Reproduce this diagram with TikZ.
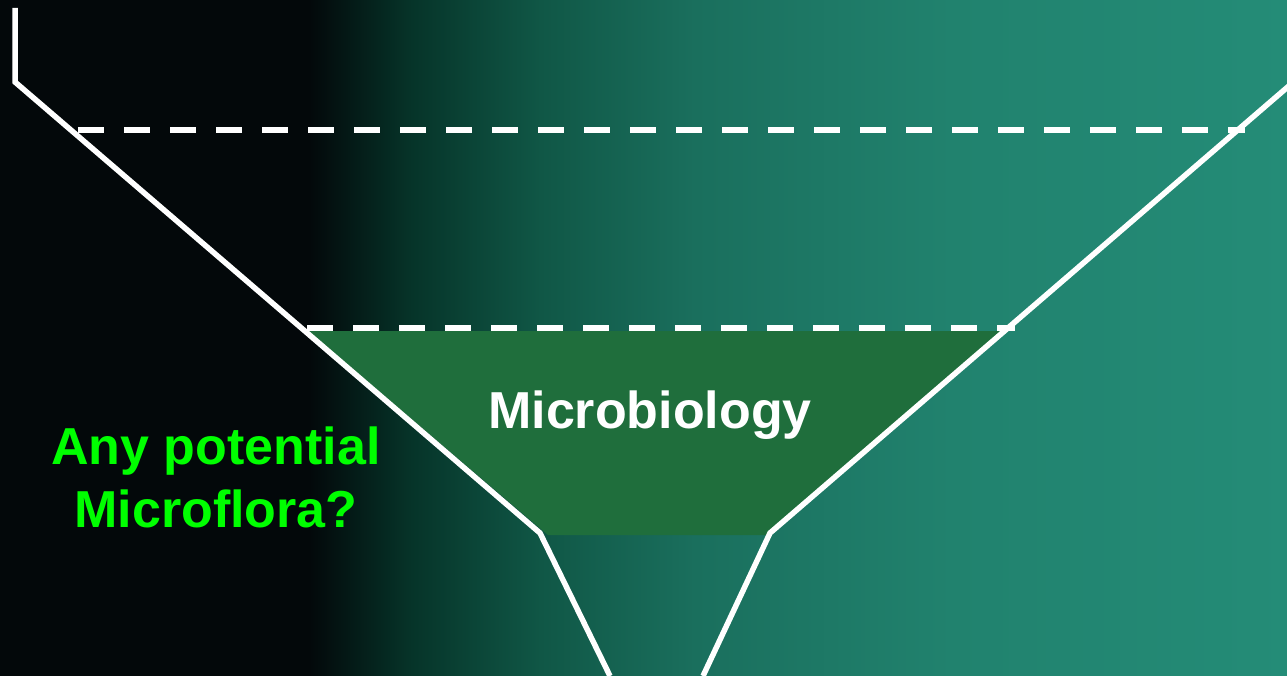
\documentclass[tikz,border=0pt]{standalone}
\usepackage{fontspec}
\setmainfont{Liberation Sans}
\usepackage{xcolor}
\usetikzlibrary{positioning}

\definecolor{bgblack}{HTML}{03080A}
\definecolor{bgdark}{HTML}{063429}
\definecolor{bgmid}{HTML}{105746}
\definecolor{bgteal}{HTML}{1A6F5D}
\definecolor{bgtealB}{HTML}{21826E}
\definecolor{bgtealC}{HTML}{248C77}
\definecolor{funnelgreen}{HTML}{1F6E3C}
\definecolor{askgreen}{HTML}{00FF00}

\pgfdeclarehorizontalshading{bgfade}{100bp}{color(0bp)=(bgblack); color(37bp)=(bgblack); color(41bp)=(bgdark); color(46bp)=(bgmid); color(52bp)=(bgteal); color(62bp)=(bgtealB); color(75bp)=(bgtealC); color(100bp)=(bgtealC)}

\begin{document}
\begin{tikzpicture}[
x=1pt, y=-1pt,
    wall/.style={draw=white, line width=5.5pt, line join=miter},
    level/.style={draw=white, line width=6pt, dash pattern=on 26pt off 20pt},
    label/.style={font=\fontsize{52}{63}\selectfont\bfseries, align=center, inner sep=0pt}
]

    % ================= BACKGROUND =================
    \useasboundingbox (0,0) rectangle (1287,676);
    \fill[shading=bgfade] (0,0) rectangle (1287,676);

    % ================= FUNNEL POINTS =================
    \coordinate (l_top) at (15,8);
    \coordinate (l_rim) at (15,82);
    \coordinate (l_neck) at (540,533);
    \coordinate (l_end) at (610,676);
    \coordinate (r_rim) at (1290,85);
    \coordinate (r_neck) at (770,533);
    \coordinate (r_end) at (703,676);

    % Filled band
    \fill[funnelgreen] (308,331) -- (1008,331) -- (770,535) -- (548,535) -- cycle;

    % Levels
    \coordinate (up_l) at (78,130);
    \coordinate (up_r) at (1245,130);
    \coordinate (lo_l) at (307,327.5);
    \coordinate (lo_r) at (1015,327.5);
    \draw[level] (up_l) -- (up_r);
    \draw[level] (lo_l) -- (lo_r);

    % Walls
    \draw[wall] (l_top) -- (l_rim) -- (l_neck) -- (l_end);
    \draw[wall] (r_rim) -- (r_neck) -- (r_end);

    % ================= LABELS =================
    \node[label, text=white, anchor=base] (micro) at (650,428) {Microbiology};
    \node[label, text=askgreen] (ask) at (216,477) {Any potential\\Microflora?};

\end{tikzpicture}
\end{document}
